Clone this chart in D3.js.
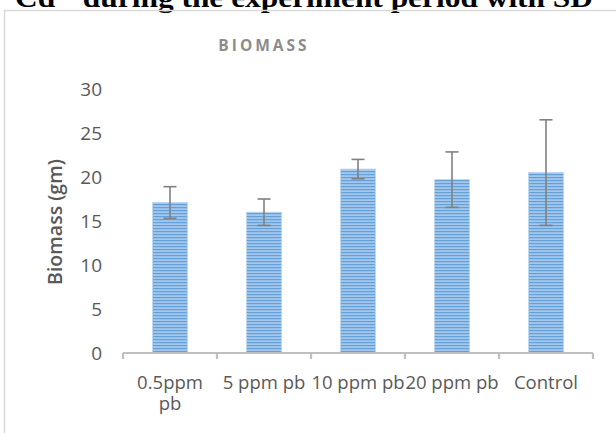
<!DOCTYPE html>
<html><head><meta charset="utf-8">
<script src="https://cdn.jsdelivr.net/npm/d3@7"></script>
<style>body{margin:0;background:#fff;}svg{display:block;}</style>
</head><body>
<script>
const categories = ["0.5ppm pb", "5 ppm pb", "10 ppm pb", "20 ppm pb", "Control"];
const biomass = [17.1, 16.0, 20.9, 19.7, 20.5];
const sd = [1.8, 1.5, 1.1, 3.15, 6.0];
const yTicks = [0, 5, 10, 15, 20, 25, 30];
const chartTitle = "BIOMASS";
const yTitle = "Biomass (gm)";
const docText = "Cd\u00B2\u207A during the experiment period with SD";

const W = 616, H = 433;
const svg = d3.select("body").append("svg").attr("width", W).attr("height", H);

// document caption (cut off at top)
svg.append("text").attr("x", 15).attr("y", 6.5)
  .attr("text-anchor", "start").attr("textLength", 578).attr("lengthAdjust", "spacingAndGlyphs")
  .style("font-family", "'Liberation Serif', 'Times New Roman', serif")
  .style("font-weight", "bold").style("font-size", "27px").attr("fill", "#000")
  .text(docText);

// chart frame
svg.append("path").attr("d", `M4.5,${H} V10.5 H${W}`)
  .attr("fill", "none").attr("stroke", "#d9d9d9").attr("stroke-width", 1.5);

const x = d3.scaleBand().domain(categories).range([123, 593]).paddingInner(0.63).paddingOuter(0.315);
const y = d3.scaleLinear().domain([0, 30]).range([353, 89]);

// pattern
const defs = svg.append("defs");
const pat = defs.append("pattern").attr("id", "stripes").attr("patternUnits", "userSpaceOnUse")
  .attr("width", 8).attr("height", 3);
pat.append("rect").attr("width", 8).attr("height", 3).attr("fill", "#a3c7ec");
pat.append("rect").attr("width", 8).attr("height", 1.2).attr("fill", "#64a1d9");

// title
svg.append("text").attr("x", 264).attr("y", 51).attr("text-anchor", "middle")
  .style("font-family", "'Open Sans', sans-serif").style("font-weight", "bold")
  .style("font-size", "15.5px").style("letter-spacing", "3px").attr("fill", "#8c8c8c")
  .text(chartTitle);

// y axis labels
const yAxis = d3.axisLeft(y).tickValues(yTicks).tickSize(0).tickPadding(0);
const gy = svg.append("g").attr("transform", "translate(102,0)").call(yAxis);
gy.select(".domain").remove();
gy.selectAll("text").style("font-family", "'Open Sans', sans-serif").style("font-size", "19px")
  .attr("fill", "#595959");

// y title
svg.append("text").attr("transform", "translate(62,222) rotate(-90)").attr("text-anchor", "middle")
  .style("font-family", "'Open Sans', sans-serif").style("font-weight", "600")
  .style("font-size", "19.5px").attr("fill", "#595959").text(yTitle);

// bars
svg.append("g").selectAll("rect").data(categories).join("rect")
  .attr("x", d => x(d)).attr("width", x.bandwidth())
  .attr("y", (d, i) => y(biomass[i])).attr("height", (d, i) => y(0) - y(biomass[i]))
  .attr("fill", "url(#stripes)").attr("stroke", "#b8d3f0").attr("stroke-width", 0.8);

// x axis
const gx = svg.append("g").attr("transform", "translate(0,353)");
gx.append("line").attr("x1", 123).attr("x2", 593).attr("y1", 0).attr("y2", 0)
  .attr("stroke", "#bfbfbf").attr("stroke-width", 2.2);
const bounds = categories.map(c => x(c) - x.step() * x.paddingInner() / 2).concat([593]);
gx.selectAll(".tk").data(bounds).join("line").attr("class", "tk")
  .attr("x1", d => d).attr("x2", d => d).attr("y1", 0).attr("y2", 6)
  .attr("stroke", "#bfbfbf").attr("stroke-width", 2.2);

const labels = svg.append("g");
categories.forEach((c, i) => {
  const cx = x(c) + x.bandwidth() / 2;
  const lines = c === "0.5ppm pb" ? ["0.5ppm", "pb"] : [c];
  lines.forEach((l, j) => labels.append("text").attr("x", cx).attr("y", 389 + j * 21)
    .attr("text-anchor", "middle")
    .style("font-family", "'Open Sans', sans-serif").style("font-size", "18.5px").attr("fill", "#595959")
    .text(l));
});

// error bars
const eb = svg.append("g").attr("stroke", "#808080").attr("stroke-width", 1.6);
categories.forEach((c, i) => {
  const cx = x(c) + x.bandwidth() / 2;
  const top = y(biomass[i] + sd[i]), bot = y(biomass[i] - sd[i]);
  eb.append("line").attr("x1", cx).attr("x2", cx).attr("y1", top).attr("y2", bot);
  eb.append("line").attr("x1", cx - 6.5).attr("x2", cx + 6.5).attr("y1", top).attr("y2", top);
  eb.append("line").attr("x1", cx - 6.5).attr("x2", cx + 6.5).attr("y1", bot).attr("y2", bot);
});
</script>
</body></html>
